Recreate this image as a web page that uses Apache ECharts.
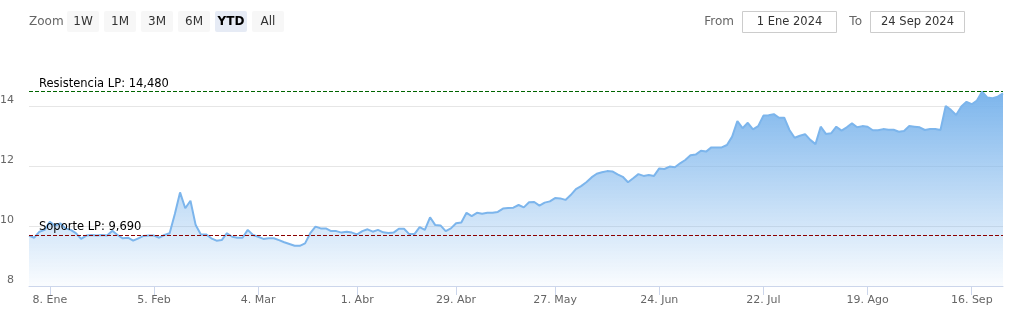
<!DOCTYPE html>
<html>
<head>
<meta charset="utf-8">
<script src="https://cdn.jsdelivr.net/npm/echarts@6/dist/echarts.min.js"></script>
<style>
html,body{margin:0;padding:0;background:#fff;}
#chart{width:1011px;height:316px;}
</style>
</head>
<body>
<div id="chart"></div>
<script>
// ---- data ----
const firstDate = '2024-01-02';
const lastDate = '2024-09-24';
const marketHolidays = ['2024-03-29', '2024-04-01', '2024-05-01'];
const monthNames = ['Ene','Feb','Mar','Abr','May','Jun','Jul','Ago','Sep','Oct','Nov','Dic'];
const prices = [
 9.68,9.61,9.81,9.87,10.14,10.01,10.09,9.92,9.87,9.76,
 9.57,9.68,9.70,9.68,9.70,9.68,9.84,9.70,9.59,9.61,
 9.51,9.59,9.67,9.68,9.68,9.61,9.70,9.76,10.40,11.12,
 10.59,10.84,10.03,9.72,9.72,9.59,9.51,9.53,9.76,9.64,
 9.61,9.61,9.87,9.70,9.64,9.57,9.59,9.59,9.53,9.46,
 9.40,9.34,9.34,9.42,9.76,9.98,9.92,9.92,9.83,9.83,
 9.78,9.81,9.78,9.72,9.83,9.89,9.81,9.87,9.79,9.77,
 9.78,9.91,9.91,9.73,9.73,9.96,9.87,10.29,10.03,10.02,
 9.83,9.92,10.09,10.12,10.44,10.33,10.44,10.41,10.44,10.44,
 10.47,10.58,10.60,10.61,10.70,10.62,10.79,10.80,10.68,10.78,
 10.82,10.93,10.92,10.87,11.03,11.23,11.33,11.46,11.62,11.74,
 11.79,11.83,11.82,11.72,11.64,11.46,11.59,11.73,11.67,11.70,
 11.67,11.92,11.90,11.98,11.96,12.09,12.20,12.36,12.38,12.51,
 12.48,12.62,12.62,12.62,12.70,12.98,13.50,13.26,13.44,13.22,
 13.33,13.68,13.69,13.73,13.61,13.61,13.20,12.94,13.01,13.06,
 12.87,12.73,13.31,13.07,13.09,13.31,13.18,13.29,13.42,13.29,
 13.33,13.31,13.19,13.19,13.23,13.21,13.21,13.14,13.17,13.33,
 13.31,13.29,13.20,13.23,13.23,13.20,14.00,13.87,13.70,13.98,
 14.14,14.06,14.18,14.48,14.28,14.26,14.31,14.42
];
const levelNames = ['Resistencia LP', 'Soporte LP'];
const levelValues = [14.48, 9.69];
const levelColors = ['#006400', '#8b0000'];
const yTicks = [8, 10, 12, 14];
const rangeButtons = ['1W','1M','3M','6M','YTD','All'];
const selectedButton = 'YTD';
const fromText = '1 Ene 2024';
const toText = '24 Sep 2024';

// ---- trading-day categories ----
function iso(d){ return d.toISOString().slice(0,10); }
const categories = [];
for (let d = new Date(firstDate + 'T00:00:00Z'); iso(d) <= lastDate; d.setUTCDate(d.getUTCDate()+1)) {
  const wd = d.getUTCDay();
  if (wd === 0 || wd === 6) continue;
  if (marketHolidays.includes(iso(d))) continue;
  categories.push(iso(d));
}
// ticks every 4 weeks starting the week of 8 Jan, at the first trading day of the week
const anchorMonday = Date.UTC(2024,0,8);
const tickLabels = {};
let prevWeek = null;
categories.forEach((c, i) => {
  const t = Date.parse(c + 'T00:00:00Z');
  const wd = new Date(t).getUTCDay();
  const monday = t - (wd - 1) * 86400000;
  const week = Math.round((monday - anchorMonday) / (7*86400000));
  if (week !== prevWeek) {
    prevWeek = week;
    if (week >= 0 && week % 4 === 0) {
      const md = new Date(monday);
      tickLabels[i] = md.getUTCDate() + '. ' + monthNames[md.getUTCMonth()];
    }
  }
});

const FONT = 'DejaVu Sans';
const chart = echarts.init(document.getElementById('chart'), null, {renderer:'canvas'});

const graphics = [];
graphics.push({type:'text', x:29, y:21.5, style:{text:'Zoom', fill:'#666', font:'12px ' + FONT, verticalAlign:'middle'}});
rangeButtons.forEach((b, k) => {
  const sel = b === selectedButton;
  graphics.push({type:'rect', shape:{x:67 + 37*k, y:11, width:32, height:21, r:2},
    style:{fill: sel ? '#e6ebf5' : '#f7f7f7'}});
  graphics.push({type:'text', x:83 + 37*k, y:21.5,
    style:{text:b, fill: sel ? '#000' : '#333', font:(sel?'bold ':'') + '12px ' + FONT, align:'center', verticalAlign:'middle'}});
});
graphics.push({type:'text', x:734, y:21.5, style:{text:'From', fill:'#666', font:'12px ' + FONT, align:'right', verticalAlign:'middle'}});
graphics.push({type:'rect', shape:{x:742.5, y:11.5, width:94, height:21}, style:{fill:'#fff', stroke:'#ccc', lineWidth:1}});
graphics.push({type:'text', x:789.5, y:22, style:{text:fromText, fill:'#333', font:'11.5px ' + FONT, align:'center', verticalAlign:'middle'}});
graphics.push({type:'text', x:862, y:21.5, style:{text:'To', fill:'#666', font:'12px ' + FONT, align:'right', verticalAlign:'middle'}});
graphics.push({type:'rect', shape:{x:870.5, y:11.5, width:94, height:21}, style:{fill:'#fff', stroke:'#ccc', lineWidth:1}});
graphics.push({type:'text', x:917.5, y:22, style:{text:toText, fill:'#333', font:'11.5px ' + FONT, align:'center', verticalAlign:'middle'}});

const levelSeries = levelValues.map((v, k) => ({
  type: 'line',
  name: levelNames[k],
  data: [],
  silent: true,
  z: 3,
  markLine: {
    silent: true,
    symbol: ['none', 'none'],
    animation: false,
    lineStyle: {color: levelColors[k], type: [4, 2], width: 1, opacity: 1},
    emphasis: {disabled: true},
    label: {
      show: true,
      position: 'insideStartTop',
      distance: [10, 2],
      formatter: levelNames[k] + ': ' + v.toFixed(3).replace('.', ','),
      color: '#000', fontSize: 11.5, fontFamily: FONT
    },
    data: [{yAxis: v}]
  }
}));

const option = {
  animation: false,
  textStyle: {fontFamily: FONT},
  grid: {left: 29, right: 8, top: 91, bottom: 30, containLabel: false, outerBoundsMode: 'none'},
  graphic: graphics,
  xAxis: {
    type: 'category',
    data: categories,
    boundaryGap: false,
    axisLine: {lineStyle: {color: '#ccd6eb', width: 1}},
    axisTick: {show: true, length: 9, lineStyle: {color: '#ccd6eb'}, interval: (i) => tickLabels[i] !== undefined},
    axisLabel: {
      interval: (i) => tickLabels[i] !== undefined,
      formatter: (v, i) => tickLabels[i] || '',
      color: '#666', fontSize: 11, margin: 9, fontFamily: FONT
    },
    splitLine: {show: false}
  },
  yAxis: {
    type: 'value',
    min: yTicks[0],
    max: 14.5,
    interval: 2,
    axisLine: {show: false},
    axisTick: {show: false},
    axisLabel: {
      color: '#666', fontSize: 11, margin: 15, fontFamily: FONT,
      verticalAlign: 'bottom', lineHeight: 12,
      showMaxLabel: false,
      formatter: (v) => yTicks.includes(v) ? String(v) : ''
    },
    splitLine: {show: true, showMaxLine: false, lineStyle: {color: '#e6e6e6', width: 1}}
  },
  series: [{
    type: 'line',
    data: prices,
    showSymbol: false,
    symbol: 'none',
    lineStyle: {color: '#7cb5ec', width: 2},
    itemStyle: {color: '#7cb5ec'},
    areaStyle: {
      opacity: 1,
      color: new echarts.graphic.LinearGradient(0, 0, 0, 1, [
        {offset: 0, color: 'rgba(124,181,236,1)'},
        {offset: 1, color: 'rgba(124,181,236,0.04)'}
      ])
    }
  }].concat(levelSeries)
};
chart.setOption(option);
</script>
</body>
</html>
